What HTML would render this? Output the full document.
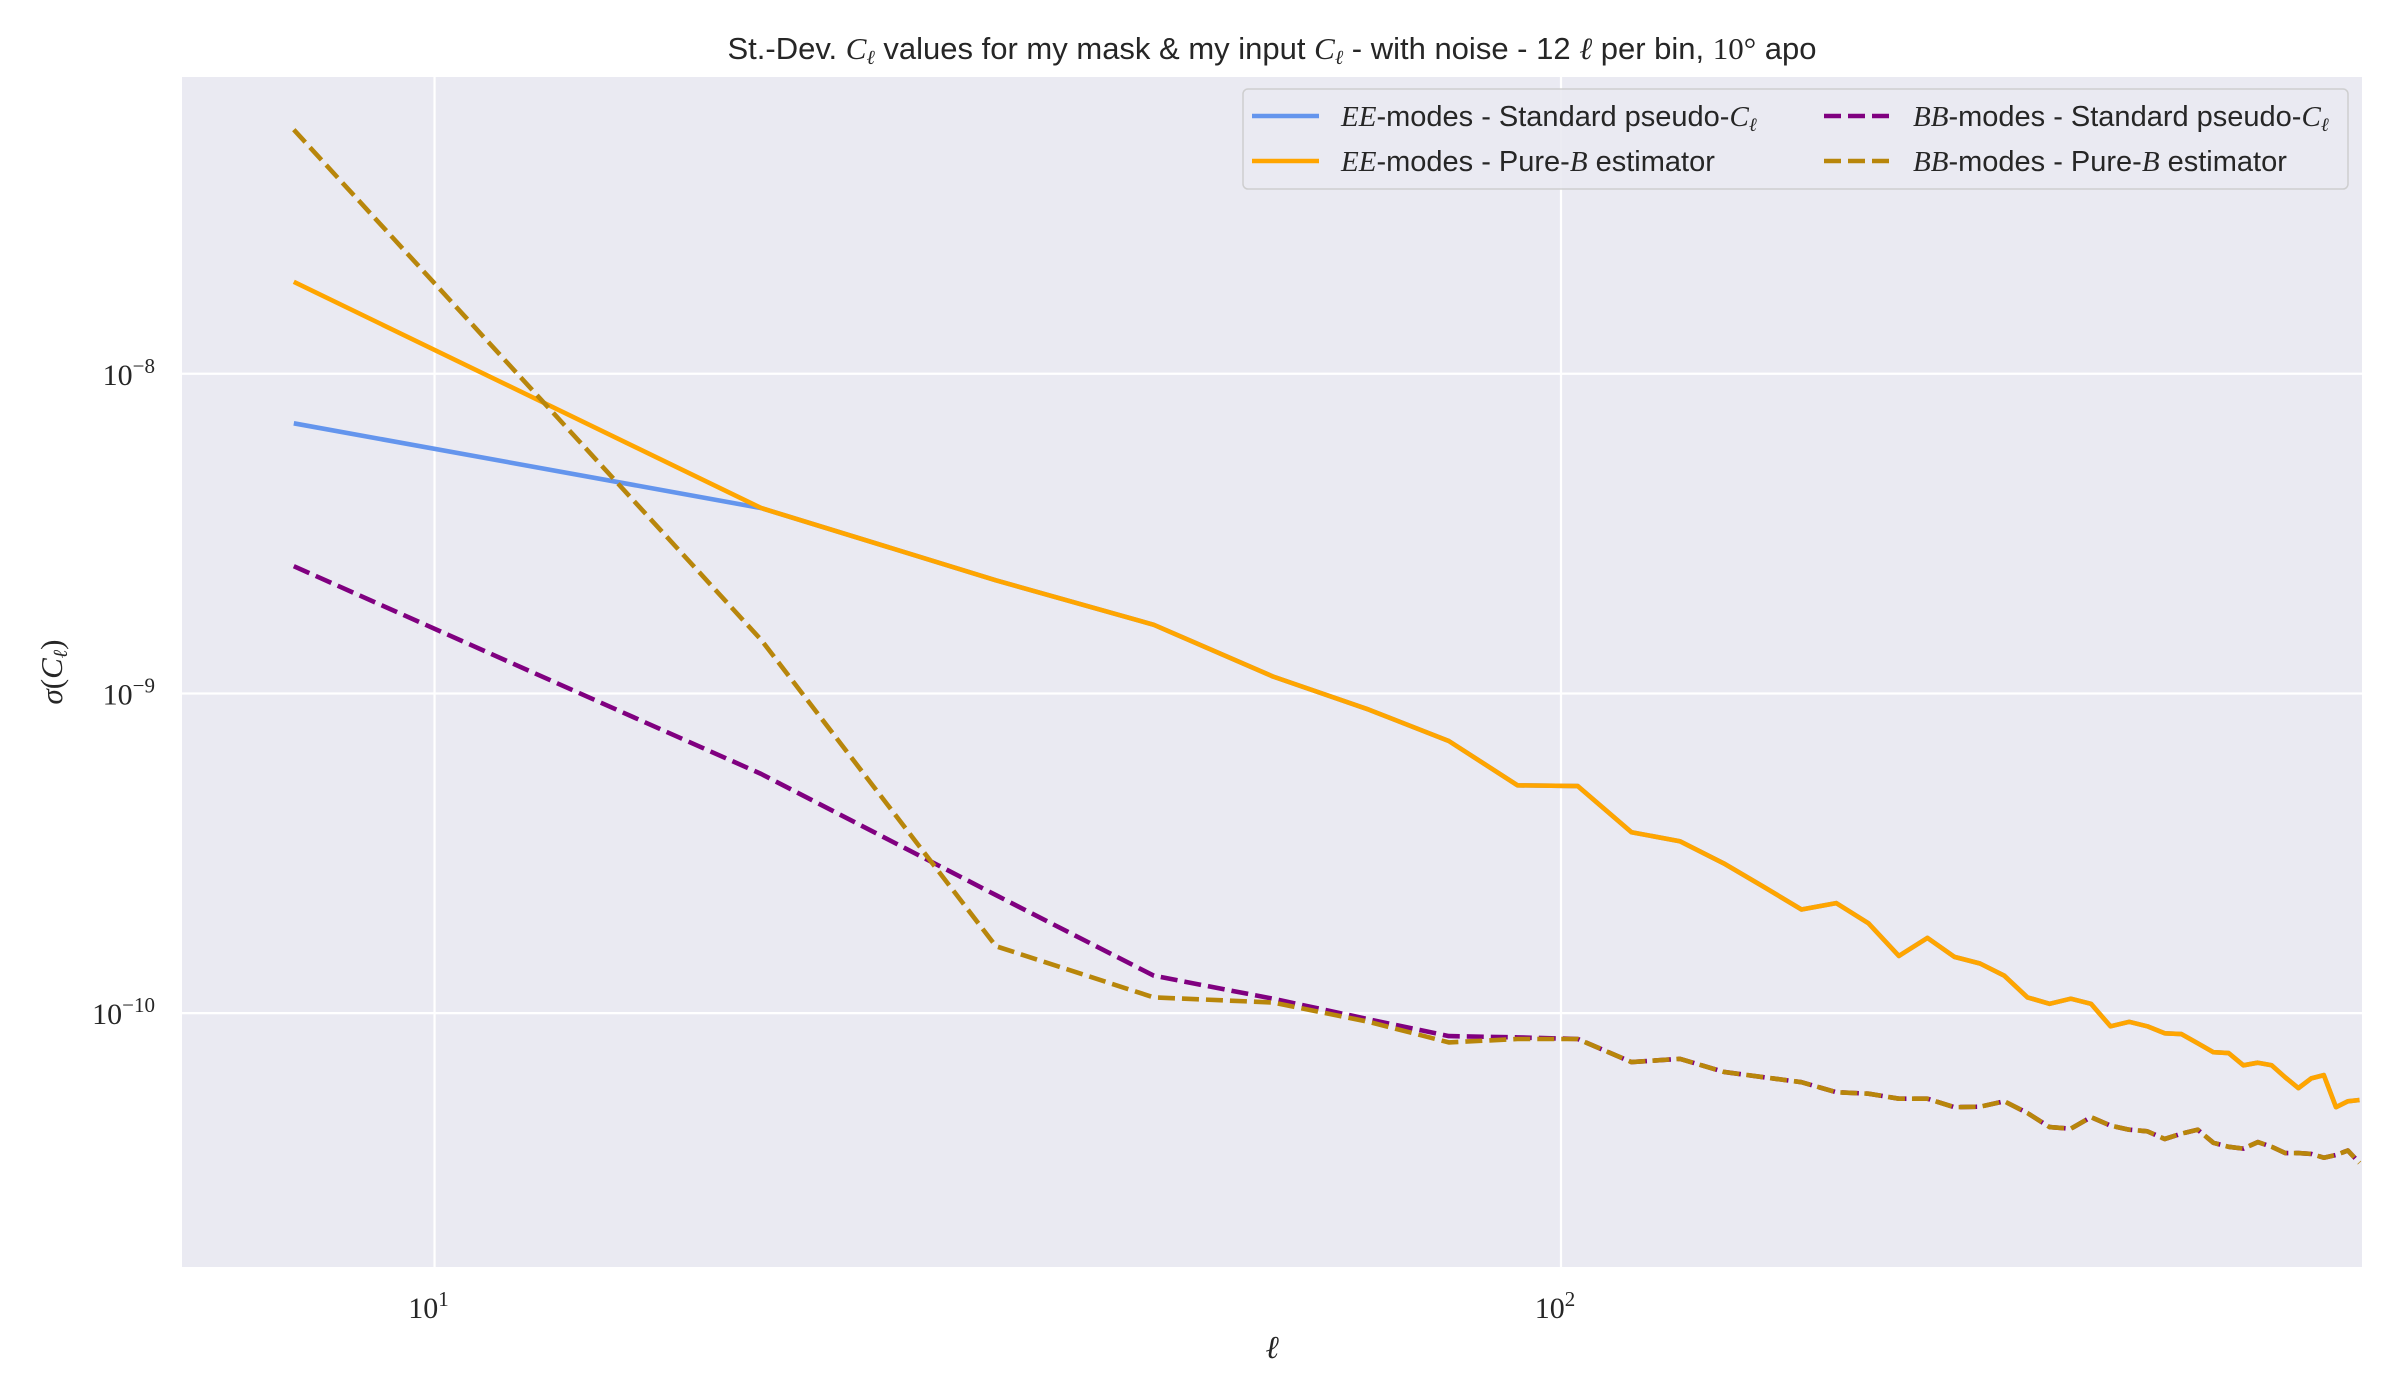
<!DOCTYPE html>
<html><head><meta charset="utf-8"><style>
html,body{margin:0;padding:0;background:#fff;}
svg{display:block;font-family:"Liberation Sans",sans-serif;}
.m{font-family:"Liberation Serif",serif;font-style:italic;}
.r{font-family:"Liberation Serif",serif;}
</style></head><body>
<svg id="chart" width="2400" height="1400" viewBox="0 0 2400 1400">
<text x="1272" y="59" text-anchor="middle" font-size="31" fill="#262626">St.-Dev. <tspan class="m">C</tspan><tspan class="m" font-size="20" dy="5">ℓ</tspan><tspan dy="-5"> values for my mask &amp; my input </tspan><tspan class="m">C</tspan><tspan class="m" font-size="20" dy="5">ℓ</tspan><tspan dy="-5"> - with noise - 12 </tspan><tspan class="m">ℓ</tspan><tspan> per bin, </tspan><tspan class="r">10°</tspan><tspan> apo</tspan></text>
<rect x="182" y="77" width="2180" height="1190" fill="#EAEAF2"/>
<g id="grid"></g>
<g id="ticks"></g>
<g id="series"></g>
<text x="1272" y="1358" text-anchor="middle" font-size="32" class="m" fill="#262626">ℓ</text>
<text transform="translate(62,672) rotate(-90)" text-anchor="middle" font-size="31" fill="#262626"><tspan class="m">σ</tspan><tspan class="r">(</tspan><tspan class="m">C</tspan><tspan class="m" font-size="20" dy="5">ℓ</tspan><tspan class="r" dy="-5">)</tspan></text>
<g>
<rect x="1243" y="89" width="1105" height="100" rx="5" fill="#EAEAF2" stroke="#cccccc" stroke-width="1.5" opacity="0.9"/>
<line x1="1252" y1="116" x2="1319" y2="116" stroke="#6495ED" stroke-width="4.5"/>
<text x="1341" y="126" font-size="29" fill="#262626"><tspan class="m">EE</tspan>-modes - Standard pseudo-<tspan class="m">C</tspan><tspan class="m" font-size="19" dy="5">ℓ</tspan></text>
<line x1="1252" y1="161" x2="1319" y2="161" stroke="#FFA500" stroke-width="4.5"/>
<text x="1341" y="171" font-size="29" fill="#262626"><tspan class="m">EE</tspan>-modes - Pure-<tspan class="m">B</tspan> estimator</text>
<line x1="1824" y1="116" x2="1892" y2="116" stroke="#800080" stroke-width="4.5" stroke-dasharray="17,7"/>
<text x="1913" y="126" font-size="29" fill="#262626"><tspan class="m">BB</tspan>-modes - Standard pseudo-<tspan class="m">C</tspan><tspan class="m" font-size="19" dy="5">ℓ</tspan></text>
<line x1="1824" y1="161" x2="1892" y2="161" stroke="#B8860B" stroke-width="4.5" stroke-dasharray="17,7"/>
<text x="1913" y="171" font-size="29" fill="#262626"><tspan class="m">BB</tspan>-modes - Pure-<tspan class="m">B</tspan> estimator</text>
</g>
</svg>
<script>
const ellStart = 7.5;
const ellStep = 12;
const eeStandard = [7.0e-9,3.8e-9,2.26e-9,1.64e-9,1.13e-9,8.9e-10,7.1e-10,5.16e-10,5.13e-10,3.68e-10,3.45e-10,2.94e-10,2.48e-10,2.11e-10,2.21e-10,1.91e-10,1.51e-10,1.72e-10,1.50e-10,1.43e-10,1.31e-10,1.12e-10,1.07e-10,1.11e-10,1.07e-10,9.1e-11,9.4e-11,9.1e-11,8.65e-11,8.6e-11,8.05e-11,7.55e-11,7.5e-11,6.87e-11,7.0e-11,6.87e-11,6.3e-11,5.83e-11,6.25e-11,6.4e-11,5.08e-11,5.3e-11,5.35e-11];
const eePure = [1.94e-8,3.8e-9,2.26e-9,1.64e-9,1.13e-9,8.9e-10,7.1e-10,5.16e-10,5.13e-10,3.68e-10,3.45e-10,2.94e-10,2.48e-10,2.11e-10,2.21e-10,1.91e-10,1.51e-10,1.72e-10,1.50e-10,1.43e-10,1.31e-10,1.12e-10,1.07e-10,1.11e-10,1.07e-10,9.1e-11,9.4e-11,9.1e-11,8.65e-11,8.6e-11,8.05e-11,7.55e-11,7.5e-11,6.87e-11,7.0e-11,6.87e-11,6.3e-11,5.83e-11,6.25e-11,6.4e-11,5.08e-11,5.3e-11,5.35e-11];
const bbStandard = [2.5e-9,5.6e-10,2.34e-10,1.31e-10,1.11e-10,9.57e-11,8.48e-11,8.4e-11,8.3e-11,7.03e-11,7.2e-11,6.55e-11,6.3e-11,6.08e-11,5.66e-11,5.6e-11,5.4e-11,5.4e-11,5.08e-11,5.1e-11,5.3e-11,4.87e-11,4.4e-11,4.35e-11,4.73e-11,4.45e-11,4.32e-11,4.27e-11,4.04e-11,4.2e-11,4.32e-11,3.93e-11,3.82e-11,3.77e-11,3.95e-11,3.82e-11,3.65e-11,3.65e-11,3.63e-11,3.53e-11,3.6e-11,3.72e-11,3.4e-11];
const bbPure = [5.8e-8,1.47e-9,1.62e-10,1.12e-10,1.08e-10,9.4e-11,8.1e-11,8.3e-11,8.3e-11,7.03e-11,7.2e-11,6.55e-11,6.3e-11,6.08e-11,5.66e-11,5.6e-11,5.4e-11,5.4e-11,5.08e-11,5.1e-11,5.3e-11,4.87e-11,4.4e-11,4.35e-11,4.73e-11,4.45e-11,4.32e-11,4.27e-11,4.04e-11,4.2e-11,4.32e-11,3.93e-11,3.82e-11,3.77e-11,3.95e-11,3.82e-11,3.65e-11,3.65e-11,3.63e-11,3.53e-11,3.6e-11,3.72e-11,3.4e-11];
const xTicks = [10, 100];
const xTickExp = ["1", "2"];
const yTicks = [1e-8, 1e-9, 1e-10];
const yTickExp = ["−8", "−9", "−10"];

const NS = "http://www.w3.org/2000/svg";
const X0 = 182, X1 = 2362, Y0 = 77, Y1 = 1267;
const xLogMin = 0.7758, xLogMax = 2.7111;
const yLogMin = -10.794, yLogMax = -7.0717;
function xScale(v){ return X0 + (Math.log10(v) - xLogMin) / (xLogMax - xLogMin) * (X1 - X0); }
function yScale(v){ return Y1 - (Math.log10(v) - yLogMin) / (yLogMax - yLogMin) * (Y1 - Y0); }
function mk(tag, attrs, parent){ const e = document.createElementNS(NS, tag); for (const k in attrs) e.setAttribute(k, attrs[k]); parent.appendChild(e); return e; }

const grid = document.getElementById('grid');
const ticks = document.getElementById('ticks');
xTicks.forEach((t, i) => {
  const x = xScale(t);
  const l = mk('line', {x1:x, x2:x, y1:Y0, y2:Y1, stroke:'#fff', 'stroke-width':2.2}, grid);
  
  
  const tx = mk('text', {x:x-6, y:1318, 'text-anchor':'middle', 'font-size':30, fill:'#262626', class:'r'}, ticks);
  
  
  tx.textContent = '10';
  const sp = document.createElementNS(NS, 'tspan'); sp.setAttribute('font-size', '21'); sp.setAttribute('dy', '-12'); sp.textContent = xTickExp[i]; tx.appendChild(sp);
});
yTicks.forEach((t, i) => {
  const y = yScale(t);
  const l = mk('line', {x1:X0, x2:X1, y1:y, y2:y, stroke:'#fff', 'stroke-width':2.2}, grid);
  
  
  const tx = mk('text', {x:155, y:y+11, 'text-anchor':'end', 'font-size':30, fill:'#262626', class:'r'}, ticks);
  
  
  tx.textContent = '10';
  const sp = document.createElementNS(NS, 'tspan'); sp.setAttribute('font-size', '21'); sp.setAttribute('dy', '-12'); sp.textContent = yTickExp[i]; tx.appendChild(sp);
});

const series = document.getElementById('series');
function draw(vals, color, dash, name){
  const pts = vals.map((v, i) => xScale(ellStart + ellStep * i).toFixed(1) + ',' + yScale(v).toFixed(1)).join(' ');
  const attrs = {points:pts, fill:'none', stroke:color, 'stroke-width':4.6, 'stroke-linejoin':'round'};
  if (dash) attrs['stroke-dasharray'] = dash;
  const p = mk('polyline', attrs, series);
  
  
}
draw(eeStandard, '#6495ED', null, 'ee-standard-line');
draw(eePure, '#FFA500', null, 'ee-pure-line');
draw(bbStandard, '#800080', '17,7', 'bb-standard-line');
draw(bbPure, '#B8860B', '17,7', 'bb-pure-line');
</script>
</body></html>
